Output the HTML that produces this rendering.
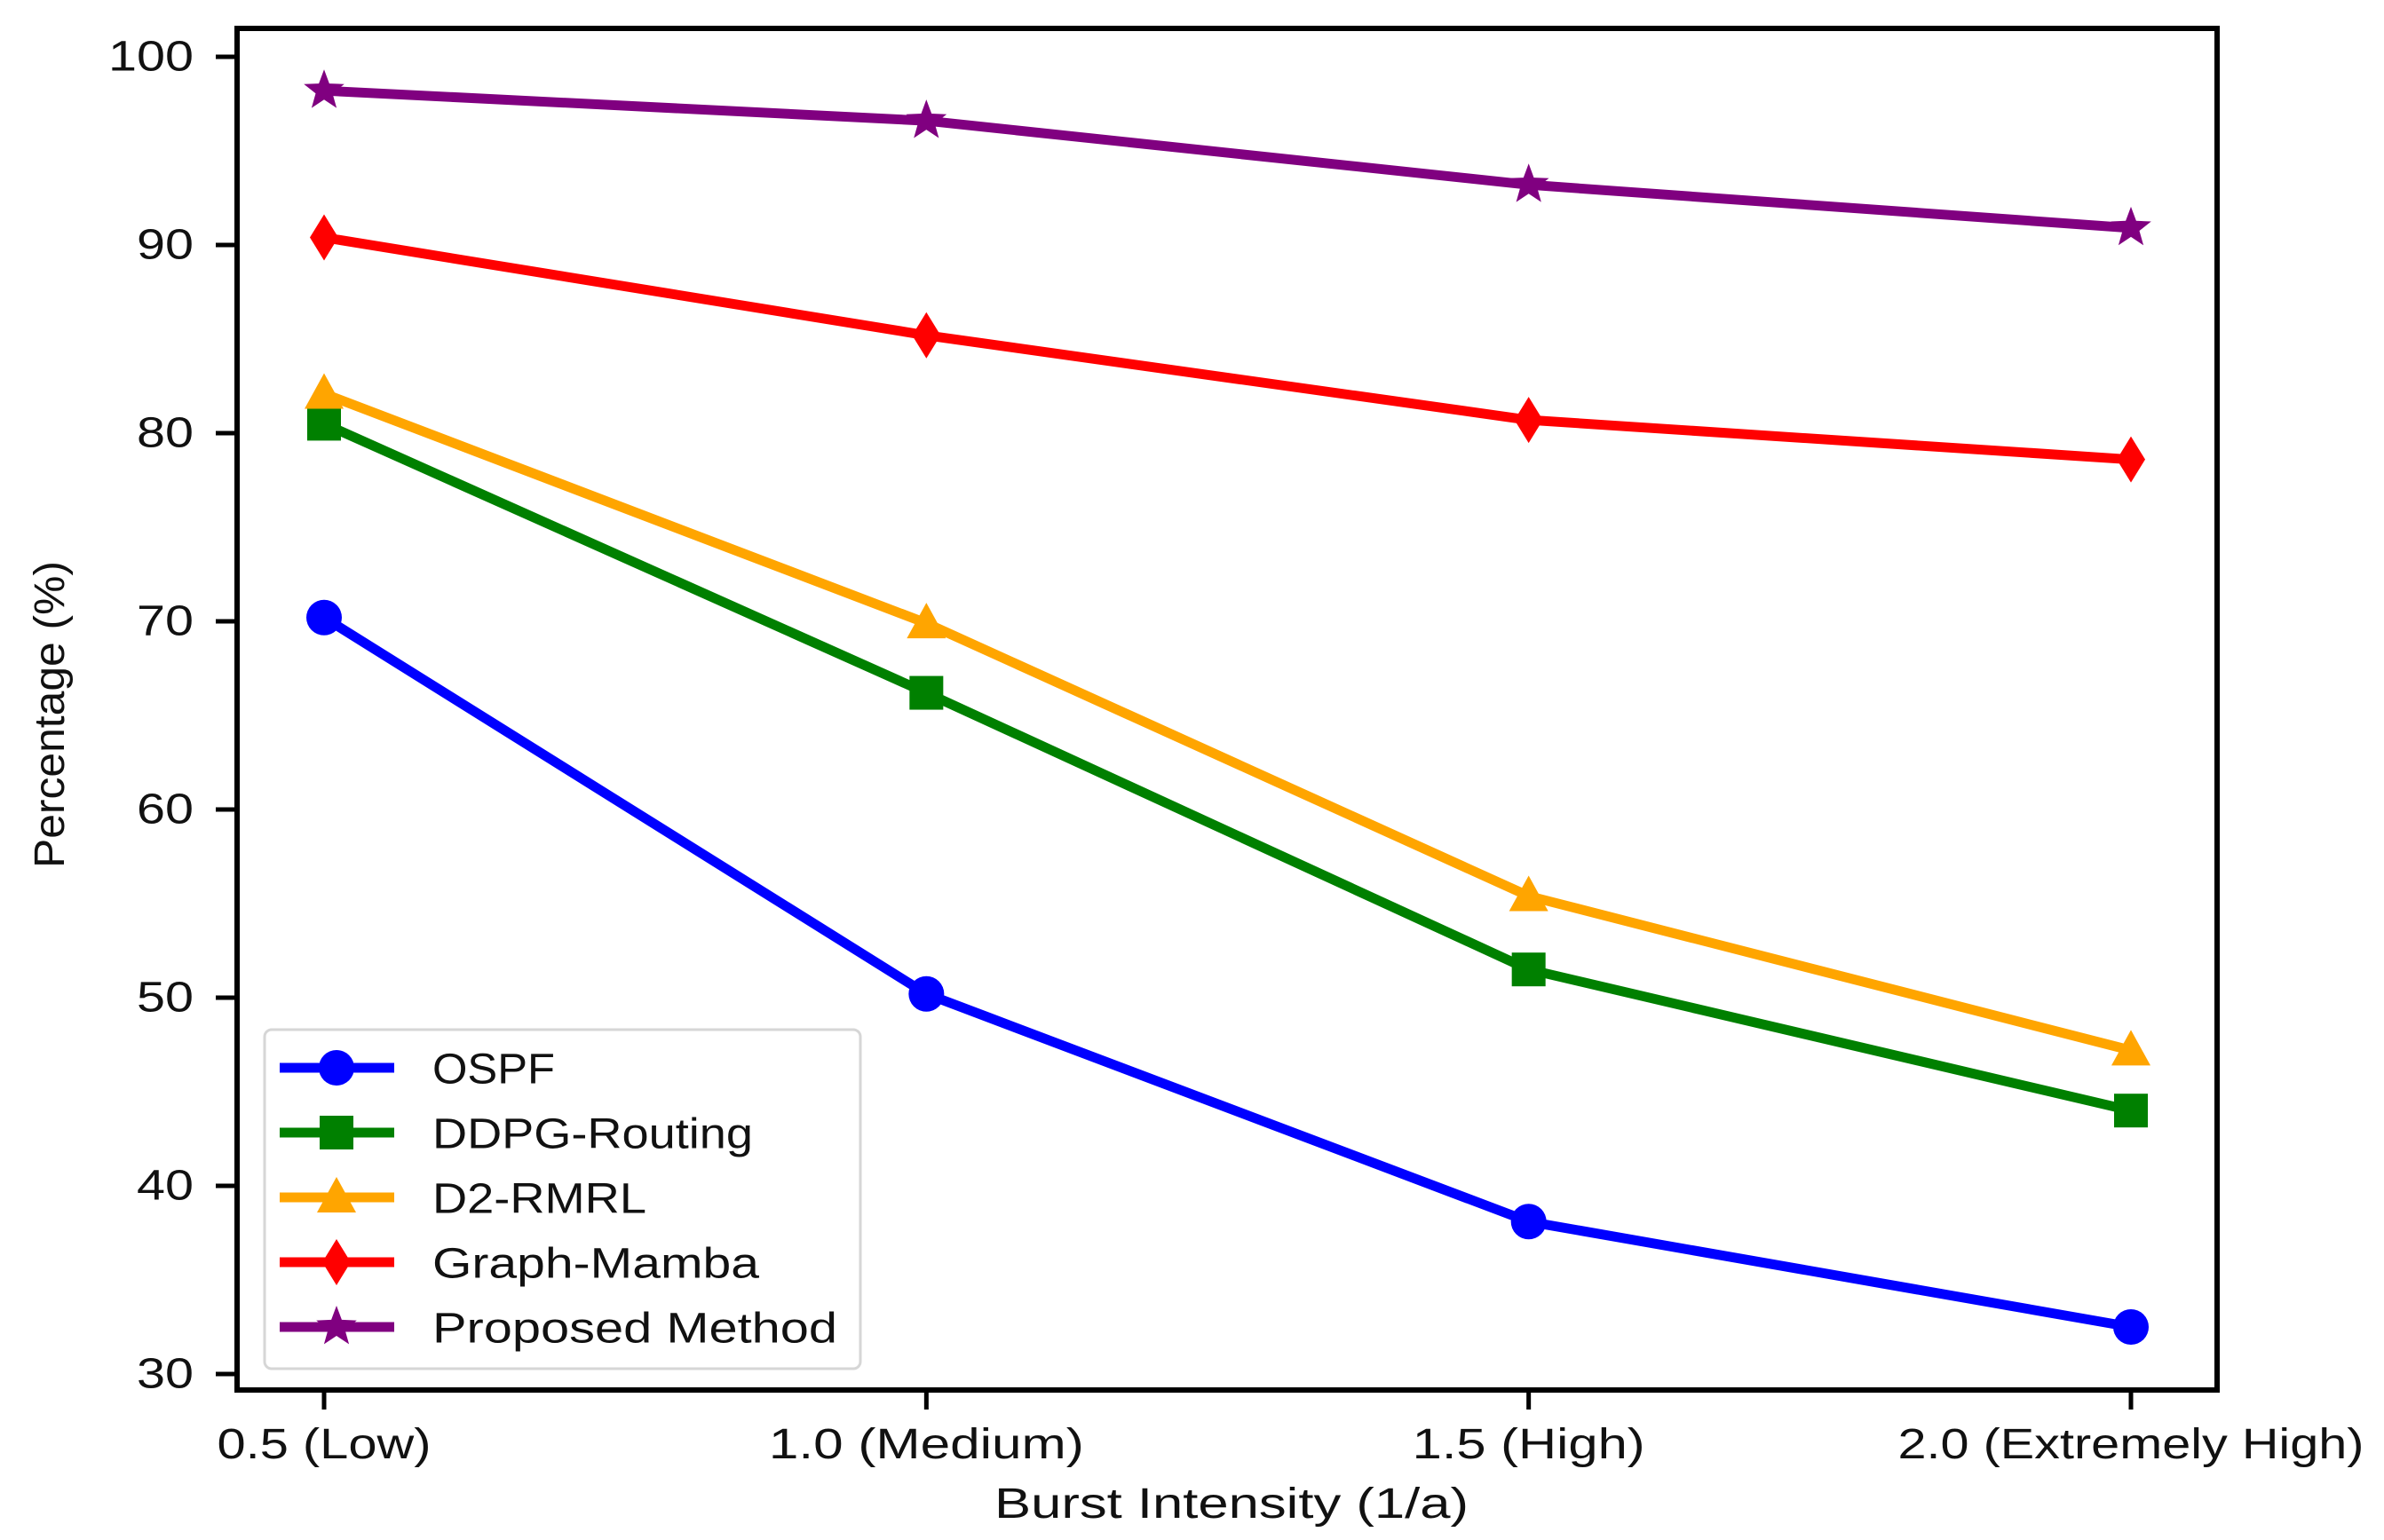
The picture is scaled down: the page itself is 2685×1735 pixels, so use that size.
<!DOCTYPE html>
<html><head><meta charset="utf-8"><style>
html,body{margin:0;padding:0;background:#fff;}
svg{display:block;font-family:"Liberation Sans",sans-serif;}
</style></head><body>
<svg id="chart" width="2685" height="1735" viewBox="0 0 2685 1735" xmlns="http://www.w3.org/2000/svg">
<rect width="2685" height="1735" fill="#fff"/>
<g id="marks"></g>
<rect x="267" y="32" width="2230" height="1534" fill="none" stroke="#000" stroke-width="6"/>
<g id="axes"></g>
<text x="1387" y="1710" font-size="48" text-anchor="middle" textLength="534" lengthAdjust="spacingAndGlyphs" fill="#111">Burst Intensity (1/a)</text>
<text transform="translate(72,805) rotate(-90)" font-size="48" text-anchor="middle" textLength="346" lengthAdjust="spacingAndGlyphs" fill="#111">Percentage (%)</text>
<g id="legend">
<rect x="298" y="1160" width="671" height="382" rx="8" fill="#fff" stroke="#d6d6d6" stroke-width="3"/>
</g>
</svg>
<script>
const categories = ["0.5 (Low)", "1.0 (Medium)", "1.5 (High)", "2.0 (Extremely High)"];
const catWidths = [241, 355, 262, 525];
const yTicks = [30, 40, 50, 60, 70, 80, 90, 100];
const seriesNames = ["OSPF", "DDPG-Routing", "D2-RMRL", "Graph-Mamba", "Proposed Method"];
const ospf = [70.2, 50.2, 38.1, 32.5];
const ddpg = [80.5, 66.2, 51.5, 44.0];
const d2rmrl = [82.1, 69.9, 55.4, 47.2];
const graphMamba = [90.4, 85.2, 80.7, 78.6];
const proposed = [98.2, 96.6, 93.2, 90.9];
const seriesValues = [ospf, ddpg, d2rmrl, graphMamba, proposed];
const colors = ["#0000ff", "#008000", "#ffa500", "#ff0000", "#800080"];
const markers = ["circle", "square", "triangle", "diamond", "star"];
const legendWidths = [138, 361, 241, 368, 456];

const NS = "http://www.w3.org/2000/svg";
const X0 = 365, X1 = 2400, Y100 = 64, Y30 = 1548;
function xs(i){ return X0 + (X1 - X0) * i / (categories.length - 1); }
function ys(v){ return Y30 + (v - 30) * (Y100 - Y30) / 70; }
function mk(tag, attrs){ const e = document.createElementNS(NS, tag); for (const k in attrs) e.setAttribute(k, attrs[k]); return e; }

function marker(type, cx, cy, color){
  let e;
  if (type === "circle") e = mk("circle", {cx: cx, cy: cy, r: 20});
  else if (type === "square") e = mk("rect", {x: cx - 19, y: cy - 19, width: 38, height: 38});
  else if (type === "triangle") e = mk("polygon", {points: `${cx},${cy-23} ${cx+22},${cy+17} ${cx-22},${cy+17}`});
  else if (type === "diamond") e = mk("polygon", {points: `${cx},${cy-26} ${cx+16},${cy} ${cx},${cy+26} ${cx-16},${cy}`});
  else {
    let pts = [];
    for (let k = 0; k < 10; k++){ const r = k % 2 ? 10 : 24; const a = -Math.PI/2 + k*Math.PI/5; pts.push((cx + r*Math.cos(a)).toFixed(1) + "," + (cy + r*Math.sin(a)).toFixed(1)); }
    e = mk("polygon", {points: pts.join(" ")});
  }
  e.setAttribute("fill", color);
  return e;
}

const marks = document.getElementById("marks");
seriesValues.forEach((vals, s) => {
  const g = mk("g", {});
  
  
  const pts = vals.map((v, i) => xs(i) + "," + ys(v)).join(" ");
  const line = mk("polyline", {points: pts, fill: "none", stroke: colors[s], "stroke-width": 11, "stroke-linejoin": "round"});
  
  
  g.appendChild(line);
  vals.forEach((v, i) => {
    const m = marker(markers[s], xs(i), ys(v), colors[s]);
    
    
    g.appendChild(m);
  });
  marks.appendChild(g);
});

const axes = document.getElementById("axes");
yTicks.forEach(t => {
  const y = ys(t);
  const tk = mk("line", {x1: 243, x2: 267, y1: y, y2: y, stroke: "#000", "stroke-width": 5});
  
  
  axes.appendChild(tk);
  const lb = mk("text", {x: 218, y: y, "font-size": 48, "text-anchor": "end", "dominant-baseline": "central", fill: "#111", textLength: String(t).length * 32, lengthAdjust: "spacingAndGlyphs"});
  lb.textContent = t;
  
  
  axes.appendChild(lb);
});
categories.forEach((c, i) => {
  const x = xs(i);
  const tk = mk("line", {x1: x, x2: x, y1: 1566, y2: 1588, stroke: "#000", "stroke-width": 5});
  
  
  axes.appendChild(tk);
  const lb = mk("text", {x: x, y: 1643, "font-size": 48, "text-anchor": "middle", fill: "#111", textLength: catWidths[i], lengthAdjust: "spacingAndGlyphs"});
  lb.textContent = c;
  
  
  axes.appendChild(lb);
});

const legend = document.getElementById("legend");
seriesNames.forEach((n, s) => {
  const y = 1203 + s * 73;
  const g = mk("g", {});
  
  
  g.appendChild(mk("line", {x1: 315, x2: 444, y1: y, y2: y, stroke: colors[s], "stroke-width": 11}));
  g.appendChild(marker(markers[s], 379, y, colors[s]));
  const t = mk("text", {x: 487, y: y + 2, "font-size": 48, "dominant-baseline": "central", fill: "#111", textLength: legendWidths[s], lengthAdjust: "spacingAndGlyphs"});
  t.textContent = n;
  g.appendChild(t);
  legend.appendChild(g);
});
</script>
</body></html>
